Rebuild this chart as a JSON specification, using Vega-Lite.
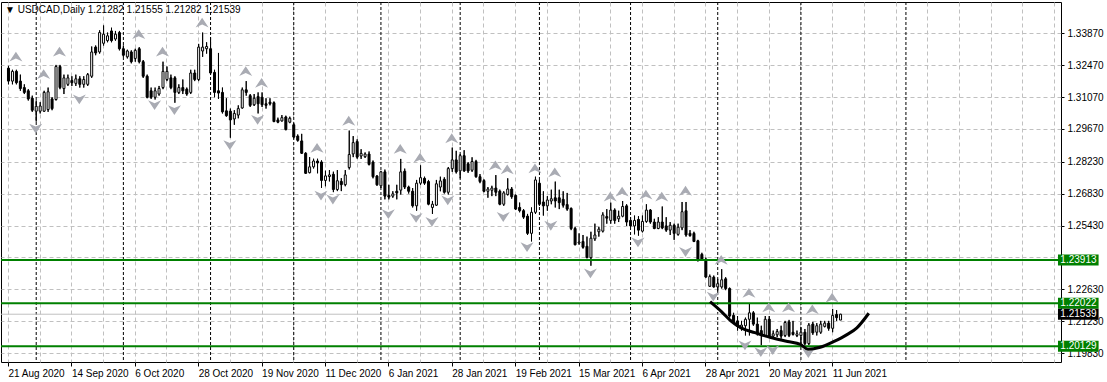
{
"$schema":"https://vega.github.io/schema/vega-lite/v6.json",
"width":1060,"height":360,
"autosize":{"type":"none"},
"padding":{"left":1,"top":2,"right":46,"bottom":20},
"background":"white",
"title":{"text":"▼ USDCAD,Daily  1.21282 1.21555 1.21282 1.21539","anchor":"start","frame":"group","offset":-13,"dx":4,"fontSize":10,"font":"Liberation Sans","fontWeight":"normal","color":"black"},
"config":{"view":{"stroke":"black","strokeWidth":1},"font":"Liberation Sans",
 "axis":{"labelFont":"Liberation Sans","grid":true,"gridColor":"#c0c0c0","gridDash":[4,3],"domain":false,"tickColor":"black","labelColor":"black","labelFontSize":10,"labelFlush":false,"labelOverlap":false,"labelBound":false},
 "axisX":{"tickSize":4,"labelAlign":"left","labelBaseline":"top","labelPadding":2},
 "axisY":{"tickSize":3,"labelAlign":"left","labelBaseline":"middle","labelPadding":3},
 "text":{"font":"Liberation Sans"}},
"datasets":{
"candles":[
{"i":0,"o":1.32338,"h":1.32437,"l":1.31628,"c":1.31770},
{"i":1,"o":1.31770,"h":1.32267,"l":1.31628,"c":1.32196},
{"i":2,"o":1.32196,"h":1.32267,"l":1.31628,"c":1.31699},
{"i":3,"o":1.31770,"h":1.32054,"l":1.31344,"c":1.31443},
{"i":4,"o":1.31486,"h":1.31628,"l":1.31202,"c":1.31273},
{"i":5,"o":1.31344,"h":1.31415,"l":1.30918,"c":1.30989},
{"i":6,"o":1.31017,"h":1.31131,"l":1.30421,"c":1.30492},
{"i":7,"o":1.30449,"h":1.30918,"l":1.29995,"c":1.30662},
{"i":8,"o":1.30449,"h":1.30847,"l":1.30350,"c":1.30677},
{"i":9,"o":1.30449,"h":1.31344,"l":1.30421,"c":1.31273},
{"i":10,"o":1.30520,"h":1.31486,"l":1.30421,"c":1.31301},
{"i":11,"o":1.30989,"h":1.31060,"l":1.30492,"c":1.30563},
{"i":12,"o":1.30961,"h":1.32480,"l":1.30918,"c":1.32409},
{"i":13,"o":1.32409,"h":1.32480,"l":1.31415,"c":1.31486},
{"i":14,"o":1.31443,"h":1.32054,"l":1.31202,"c":1.31912},
{"i":15,"o":1.31628,"h":1.32054,"l":1.31557,"c":1.31912},
{"i":16,"o":1.31798,"h":1.31983,"l":1.31557,"c":1.31699},
{"i":17,"o":1.31671,"h":1.32054,"l":1.31557,"c":1.31869},
{"i":18,"o":1.31869,"h":1.31983,"l":1.31486,"c":1.31628},
{"i":19,"o":1.31628,"h":1.31983,"l":1.31486,"c":1.31841},
{"i":20,"o":1.31628,"h":1.32125,"l":1.31557,"c":1.32054},
{"i":21,"o":1.31983,"h":1.33289,"l":1.31912,"c":1.33048},
{"i":22,"o":1.33261,"h":1.33332,"l":1.32906,"c":1.33005},
{"i":23,"o":1.33048,"h":1.33999,"l":1.32977,"c":1.33900},
{"i":24,"o":1.33431,"h":1.34212,"l":1.33332,"c":1.33829},
{"i":25,"o":1.33545,"h":1.33900,"l":1.33474,"c":1.33758},
{"i":26,"o":1.33971,"h":1.34113,"l":1.33474,"c":1.33545},
{"i":27,"o":1.33616,"h":1.33971,"l":1.33545,"c":1.33829},
{"i":28,"o":1.33900,"h":1.33971,"l":1.33119,"c":1.33190},
{"i":29,"o":1.33190,"h":1.33332,"l":1.32835,"c":1.32906},
{"i":30,"o":1.32835,"h":1.33147,"l":1.32764,"c":1.33091},
{"i":31,"o":1.33048,"h":1.33119,"l":1.32551,"c":1.32622},
{"i":32,"o":1.32764,"h":1.33190,"l":1.32622,"c":1.33119},
{"i":33,"o":1.33190,"h":1.33261,"l":1.32551,"c":1.32622},
{"i":34,"o":1.32622,"h":1.32693,"l":1.31912,"c":1.31983},
{"i":35,"o":1.31983,"h":1.32054,"l":1.31017,"c":1.31060},
{"i":36,"o":1.31344,"h":1.31486,"l":1.30989,"c":1.31060},
{"i":37,"o":1.31060,"h":1.31486,"l":1.30961,"c":1.31344},
{"i":38,"o":1.31202,"h":1.31557,"l":1.31131,"c":1.31443},
{"i":39,"o":1.31486,"h":1.32622,"l":1.31415,"c":1.32196},
{"i":40,"o":1.31841,"h":1.32409,"l":1.31770,"c":1.32196},
{"i":41,"o":1.31912,"h":1.32054,"l":1.31415,"c":1.31486},
{"i":42,"o":1.31912,"h":1.31983,"l":1.30819,"c":1.31273},
{"i":43,"o":1.31273,"h":1.31628,"l":1.31202,"c":1.31486},
{"i":44,"o":1.31486,"h":1.31841,"l":1.31202,"c":1.31344},
{"i":45,"o":1.31415,"h":1.31486,"l":1.31131,"c":1.31202},
{"i":46,"o":1.31273,"h":1.32267,"l":1.31202,"c":1.32125},
{"i":47,"o":1.32125,"h":1.32267,"l":1.31770,"c":1.31841},
{"i":48,"o":1.31841,"h":1.33403,"l":1.31770,"c":1.33261},
{"i":49,"o":1.33091,"h":1.33900,"l":1.32835,"c":1.33261},
{"i":50,"o":1.33190,"h":1.33474,"l":1.32977,"c":1.33289},
{"i":51,"o":1.33190,"h":1.33687,"l":1.32054,"c":1.32125},
{"i":52,"o":1.32153,"h":1.32267,"l":1.31060,"c":1.31273},
{"i":53,"o":1.31344,"h":1.33005,"l":1.30989,"c":1.31245},
{"i":54,"o":1.31273,"h":1.31486,"l":1.30350,"c":1.30421},
{"i":55,"o":1.30464,"h":1.31017,"l":1.30208,"c":1.30251},
{"i":56,"o":1.30449,"h":1.30563,"l":1.29285,"c":1.30066},
{"i":57,"o":1.30109,"h":1.30492,"l":1.29853,"c":1.30350},
{"i":58,"o":1.30279,"h":1.30705,"l":1.30137,"c":1.30563},
{"i":59,"o":1.30591,"h":1.31486,"l":1.30563,"c":1.31387},
{"i":60,"o":1.31387,"h":1.31770,"l":1.31131,"c":1.31273},
{"i":61,"o":1.31131,"h":1.31202,"l":1.30634,"c":1.30705},
{"i":62,"o":1.30733,"h":1.31202,"l":1.30677,"c":1.31017},
{"i":63,"o":1.31089,"h":1.31273,"l":1.30350,"c":1.30776},
{"i":64,"o":1.31060,"h":1.31273,"l":1.30634,"c":1.30733},
{"i":65,"o":1.30776,"h":1.31017,"l":1.30563,"c":1.30705},
{"i":66,"o":1.30847,"h":1.31017,"l":1.30705,"c":1.30776},
{"i":67,"o":1.30819,"h":1.30875,"l":1.29967,"c":1.29995},
{"i":68,"o":1.30066,"h":1.30165,"l":1.29924,"c":1.29967},
{"i":69,"o":1.30023,"h":1.30279,"l":1.29995,"c":1.30165},
{"i":70,"o":1.30194,"h":1.30251,"l":1.29612,"c":1.29640},
{"i":71,"o":1.29967,"h":1.30208,"l":1.29924,"c":1.30137},
{"i":72,"o":1.29853,"h":1.29924,"l":1.29257,"c":1.29313},
{"i":73,"o":1.29356,"h":1.29427,"l":1.29115,"c":1.29171},
{"i":74,"o":1.29143,"h":1.29455,"l":1.28575,"c":1.28603},
{"i":75,"o":1.28603,"h":1.28646,"l":1.27695,"c":1.27723},
{"i":76,"o":1.27751,"h":1.28433,"l":1.27723,"c":1.28007},
{"i":77,"o":1.28007,"h":1.28362,"l":1.27936,"c":1.28263},
{"i":78,"o":1.28263,"h":1.28362,"l":1.27723,"c":1.28177},
{"i":79,"o":1.28220,"h":1.28291,"l":1.27084,"c":1.27411},
{"i":80,"o":1.27411,"h":1.27837,"l":1.27155,"c":1.27609},
{"i":81,"o":1.27581,"h":1.27865,"l":1.27368,"c":1.27652},
{"i":82,"o":1.27680,"h":1.27794,"l":1.26897,"c":1.27013},
{"i":83,"o":1.27013,"h":1.27865,"l":1.26942,"c":1.27397},
{"i":84,"o":1.27368,"h":1.27510,"l":1.26942,"c":1.27226},
{"i":85,"o":1.27226,"h":1.27865,"l":1.27155,"c":1.27652},
{"i":86,"o":1.27979,"h":1.29598,"l":1.27893,"c":1.28547},
{"i":87,"o":1.28575,"h":1.29356,"l":1.28433,"c":1.29071},
{"i":88,"o":1.29115,"h":1.29214,"l":1.28362,"c":1.28433},
{"i":89,"o":1.28483,"h":1.28781,"l":1.28355,"c":1.28596},
{"i":90,"o":1.28454,"h":1.28639,"l":1.28398,"c":1.28568},
{"i":91,"o":1.28568,"h":1.28682,"l":1.28071,"c":1.28114},
{"i":92,"o":1.28213,"h":1.28284,"l":1.27503,"c":1.27574},
{"i":93,"o":1.27602,"h":1.27645,"l":1.27176,"c":1.27219},
{"i":94,"o":1.27176,"h":1.27830,"l":1.27077,"c":1.27787},
{"i":95,"o":1.27787,"h":1.27886,"l":1.26580,"c":1.26722},
{"i":96,"o":1.26750,"h":1.27219,"l":1.26580,"c":1.26679},
{"i":97,"o":1.26722,"h":1.26935,"l":1.26651,"c":1.26821},
{"i":98,"o":1.26935,"h":1.27219,"l":1.26580,"c":1.26864},
{"i":99,"o":1.26984,"h":1.28355,"l":1.26793,"c":1.27787},
{"i":100,"o":1.27815,"h":1.27929,"l":1.27034,"c":1.27120},
{"i":101,"o":1.27120,"h":1.27176,"l":1.26836,"c":1.26935},
{"i":102,"o":1.26935,"h":1.27077,"l":1.26225,"c":1.26296},
{"i":103,"o":1.26296,"h":1.27432,"l":1.26083,"c":1.27290},
{"i":104,"o":1.27290,"h":1.28071,"l":1.27219,"c":1.27531},
{"i":105,"o":1.27503,"h":1.27574,"l":1.27219,"c":1.27290},
{"i":106,"o":1.27361,"h":1.27432,"l":1.26324,"c":1.26367},
{"i":107,"o":1.26225,"h":1.26509,"l":1.25941,"c":1.26367},
{"i":108,"o":1.26324,"h":1.27432,"l":1.26296,"c":1.27262},
{"i":109,"o":1.27120,"h":1.27574,"l":1.26935,"c":1.27389},
{"i":110,"o":1.27460,"h":1.27546,"l":1.26836,"c":1.26892},
{"i":111,"o":1.26892,"h":1.28000,"l":1.26793,"c":1.27929},
{"i":112,"o":1.27929,"h":1.28852,"l":1.27787,"c":1.28312},
{"i":113,"o":1.28312,"h":1.28710,"l":1.27716,"c":1.27787},
{"i":114,"o":1.27830,"h":1.28568,"l":1.27503,"c":1.28497},
{"i":115,"o":1.28497,"h":1.28738,"l":1.27787,"c":1.27830},
{"i":116,"o":1.28142,"h":1.28213,"l":1.27744,"c":1.27830},
{"i":117,"o":1.27858,"h":1.28426,"l":1.27787,"c":1.28241},
{"i":118,"o":1.28241,"h":1.28312,"l":1.27531,"c":1.27574},
{"i":119,"o":1.27574,"h":1.27688,"l":1.27290,"c":1.27361},
{"i":120,"o":1.27404,"h":1.27460,"l":1.26892,"c":1.26935},
{"i":121,"o":1.26935,"h":1.27120,"l":1.26651,"c":1.27034},
{"i":122,"o":1.26978,"h":1.27176,"l":1.26722,"c":1.27077},
{"i":123,"o":1.27077,"h":1.27645,"l":1.26722,"c":1.26892},
{"i":124,"o":1.26935,"h":1.27006,"l":1.26324,"c":1.26367},
{"i":125,"o":1.26367,"h":1.26935,"l":1.26296,"c":1.26864},
{"i":126,"o":1.26793,"h":1.27503,"l":1.26750,"c":1.27034},
{"i":127,"o":1.27034,"h":1.27120,"l":1.26608,"c":1.26694},
{"i":128,"o":1.26750,"h":1.26793,"l":1.26111,"c":1.26154},
{"i":129,"o":1.26225,"h":1.26438,"l":1.26012,"c":1.26083},
{"i":130,"o":1.26083,"h":1.26154,"l":1.25728,"c":1.25800},
{"i":131,"o":1.25842,"h":1.25941,"l":1.25018,"c":1.25089},
{"i":132,"o":1.25089,"h":1.26225,"l":1.24734,"c":1.26012},
{"i":133,"o":1.26012,"h":1.27574,"l":1.25941,"c":1.27432},
{"i":134,"o":1.27288,"h":1.27430,"l":1.26294,"c":1.26365},
{"i":135,"o":1.26464,"h":1.26933,"l":1.25868,"c":1.26294},
{"i":136,"o":1.26294,"h":1.26720,"l":1.26081,"c":1.26550},
{"i":137,"o":1.26507,"h":1.27004,"l":1.26365,"c":1.26606},
{"i":138,"o":1.26649,"h":1.27359,"l":1.26223,"c":1.26507},
{"i":139,"o":1.26649,"h":1.27004,"l":1.26152,"c":1.26436},
{"i":140,"o":1.26578,"h":1.26933,"l":1.26223,"c":1.26322},
{"i":141,"o":1.26351,"h":1.26862,"l":1.26081,"c":1.26152},
{"i":142,"o":1.26180,"h":1.26223,"l":1.25229,"c":1.25300},
{"i":143,"o":1.25300,"h":1.25371,"l":1.24562,"c":1.24590},
{"i":144,"o":1.24661,"h":1.25087,"l":1.24590,"c":1.24704},
{"i":145,"o":1.24732,"h":1.25016,"l":1.24420,"c":1.24476},
{"i":146,"o":1.24519,"h":1.24945,"l":1.23994,"c":1.24022},
{"i":147,"o":1.24022,"h":1.25158,"l":1.23667,"c":1.24874},
{"i":148,"o":1.24846,"h":1.25513,"l":1.24760,"c":1.25016},
{"i":149,"o":1.25158,"h":1.25371,"l":1.24945,"c":1.25272},
{"i":150,"o":1.25186,"h":1.26010,"l":1.25130,"c":1.25896},
{"i":151,"o":1.25825,"h":1.26152,"l":1.25513,"c":1.25754},
{"i":152,"o":1.25655,"h":1.26436,"l":1.25513,"c":1.26109},
{"i":153,"o":1.26109,"h":1.26180,"l":1.25513,"c":1.25655},
{"i":154,"o":1.25726,"h":1.26081,"l":1.25584,"c":1.25840},
{"i":155,"o":1.25840,"h":1.26507,"l":1.25797,"c":1.26266},
{"i":156,"o":1.26294,"h":1.26365,"l":1.25414,"c":1.25584},
{"i":157,"o":1.25655,"h":1.25797,"l":1.25371,"c":1.25414},
{"i":158,"o":1.25414,"h":1.25868,"l":1.25044,"c":1.25655},
{"i":159,"o":1.25698,"h":1.25840,"l":1.24988,"c":1.25229},
{"i":160,"o":1.25186,"h":1.25868,"l":1.25130,"c":1.25612},
{"i":161,"o":1.25612,"h":1.26365,"l":1.25556,"c":1.26109},
{"i":162,"o":1.26109,"h":1.26152,"l":1.25513,"c":1.25584},
{"i":163,"o":1.25584,"h":1.25726,"l":1.25272,"c":1.25300},
{"i":164,"o":1.25300,"h":1.25797,"l":1.25272,"c":1.25584},
{"i":165,"o":1.25584,"h":1.26266,"l":1.25272,"c":1.25328},
{"i":166,"o":1.25414,"h":1.25797,"l":1.25158,"c":1.25229},
{"i":167,"o":1.25229,"h":1.25584,"l":1.25016,"c":1.25442},
{"i":168,"o":1.25442,"h":1.25513,"l":1.24803,"c":1.25087},
{"i":169,"o":1.25044,"h":1.25513,"l":1.24988,"c":1.25357},
{"i":170,"o":1.25328,"h":1.26464,"l":1.25229,"c":1.26038},
{"i":171,"o":1.26081,"h":1.26464,"l":1.24945,"c":1.25016},
{"i":172,"o":1.25087,"h":1.25229,"l":1.24945,"c":1.24988},
{"i":173,"o":1.25087,"h":1.25158,"l":1.24704,"c":1.24732},
{"i":174,"o":1.24760,"h":1.24803,"l":1.23852,"c":1.23951},
{"i":175,"o":1.24164,"h":1.24235,"l":1.23880,"c":1.23951},
{"i":176,"o":1.23951,"h":1.24022,"l":1.23142,"c":1.23170},
{"i":177,"o":1.22765,"h":1.23277,"l":1.22737,"c":1.23191},
{"i":178,"o":1.23163,"h":1.23234,"l":1.22709,"c":1.22737},
{"i":179,"o":1.22737,"h":1.23092,"l":1.22524,"c":1.22879},
{"i":180,"o":1.22737,"h":1.23518,"l":1.22666,"c":1.23049},
{"i":181,"o":1.23092,"h":1.23163,"l":1.22595,"c":1.22666},
{"i":182,"o":1.22666,"h":1.22709,"l":1.21388,"c":1.21459},
{"i":183,"o":1.21487,"h":1.21601,"l":1.21104,"c":1.21175},
{"i":184,"o":1.21246,"h":1.21459,"l":1.20820,"c":1.21005},
{"i":185,"o":1.20962,"h":1.21246,"l":1.20820,"c":1.21061},
{"i":186,"o":1.21033,"h":1.21388,"l":1.20607,"c":1.21317},
{"i":187,"o":1.21317,"h":1.22027,"l":1.20607,"c":1.21601},
{"i":188,"o":1.21601,"h":1.21672,"l":1.21033,"c":1.21104},
{"i":189,"o":1.21104,"h":1.21388,"l":1.20607,"c":1.20677},
{"i":190,"o":1.20820,"h":1.21033,"l":1.20181,"c":1.20607},
{"i":191,"o":1.20607,"h":1.21459,"l":1.20536,"c":1.21317},
{"i":192,"o":1.21317,"h":1.21459,"l":1.20493,"c":1.20579},
{"i":193,"o":1.20579,"h":1.20820,"l":1.20465,"c":1.20678},
{"i":194,"o":1.20635,"h":1.20891,"l":1.20536,"c":1.20777},
{"i":195,"o":1.20820,"h":1.21033,"l":1.20465,"c":1.20579},
{"i":196,"o":1.20607,"h":1.21246,"l":1.20536,"c":1.21175},
{"i":197,"o":1.21203,"h":1.21289,"l":1.20536,"c":1.20607},
{"i":198,"o":1.20749,"h":1.21246,"l":1.20607,"c":1.20650},
{"i":199,"o":1.20607,"h":1.20820,"l":1.20536,"c":1.20678},
{"i":200,"o":1.20607,"h":1.20962,"l":1.20252,"c":1.20749},
{"i":201,"o":1.20749,"h":1.20891,"l":1.20181,"c":1.20252},
{"i":202,"o":1.20252,"h":1.21147,"l":1.20181,"c":1.21061},
{"i":203,"o":1.21104,"h":1.21203,"l":1.20635,"c":1.20721},
{"i":204,"o":1.20749,"h":1.21147,"l":1.20607,"c":1.21033},
{"i":205,"o":1.20749,"h":1.21246,"l":1.20678,"c":1.21104},
{"i":206,"o":1.21005,"h":1.21246,"l":1.20962,"c":1.21147},
{"i":207,"o":1.21147,"h":1.21246,"l":1.20820,"c":1.20920},
{"i":208,"o":1.20920,"h":1.21771,"l":1.20749,"c":1.21487},
{"i":209,"o":1.21530,"h":1.21715,"l":1.21246,"c":1.21388},
{"i":210,"o":1.21282,"h":1.21555,"l":1.21282,"c":1.21539}
],
"fractals":[
{"i":2,"p":1.32846,"dir":"up"},{"i":9,"p":1.32078,"dir":"up"},{"i":13,"p":1.33059,"dir":"up"},{"i":33,"p":1.33827,"dir":"up"},{"i":39,"p":1.33059,"dir":"up"},{"i":49,"p":1.34339,"dir":"up"},{"i":60,"p":1.32206,"dir":"up"},{"i":64,"p":1.31694,"dir":"up"},{"i":78,"p":1.28835,"dir":"up"},{"i":86,"p":1.30030,"dir":"up"},{"i":99,"p":1.28792,"dir":"up"},{"i":104,"p":1.28408,"dir":"up"},{"i":112,"p":1.29262,"dir":"up"},{"i":123,"p":1.28067,"dir":"up"},{"i":126,"p":1.27896,"dir":"up"},{"i":133,"p":1.27939,"dir":"up"},{"i":138,"p":1.27768,"dir":"up"},{"i":152,"p":1.26701,"dir":"up"},{"i":155,"p":1.26915,"dir":"up"},{"i":161,"p":1.26787,"dir":"up"},{"i":165,"p":1.26701,"dir":"up"},{"i":171,"p":1.26957,"dir":"up"},{"i":180,"p":1.23928,"dir":"up"},{"i":187,"p":1.22477,"dir":"up"},{"i":192,"p":1.21837,"dir":"up"},{"i":197,"p":1.21837,"dir":"up"},{"i":203,"p":1.21752,"dir":"up"},{"i":208,"p":1.22264,"dir":"up"},
{"i":7,"p":1.29688,"dir":"down"},{"i":18,"p":1.30968,"dir":"down"},{"i":37,"p":1.30712,"dir":"down"},{"i":42,"p":1.30499,"dir":"down"},{"i":56,"p":1.28963,"dir":"down"},{"i":63,"p":1.30072,"dir":"down"},{"i":79,"p":1.26744,"dir":"down"},{"i":82,"p":1.26573,"dir":"down"},{"i":96,"p":1.25933,"dir":"down"},{"i":103,"p":1.25763,"dir":"down"},{"i":107,"p":1.25592,"dir":"down"},{"i":111,"p":1.26531,"dir":"down"},{"i":125,"p":1.25805,"dir":"down"},{"i":131,"p":1.24483,"dir":"down"},{"i":137,"p":1.25421,"dir":"down"},{"i":147,"p":1.23331,"dir":"down"},{"i":159,"p":1.24696,"dir":"down"},{"i":171,"p":1.24269,"dir":"down"},{"i":178,"p":1.22306,"dir":"down"},{"i":186,"p":1.20173,"dir":"down"},{"i":190,"p":1.19875,"dir":"down"},{"i":193,"p":1.19960,"dir":"down"},{"i":202,"p":1.19832,"dir":"down"}
],
"arc":[
{"i":177.2,"p":1.22093},{"i":180,"p":1.21666},{"i":182.5,"p":1.21240},{"i":185,"p":1.20941},{"i":188.5,"p":1.20728},{"i":192.5,"p":1.20514},{"i":196.75,"p":1.20344},{"i":200,"p":1.20216},{"i":201.9,"p":1.20003},{"i":205,"p":1.20088},{"i":208.5,"p":1.20344},{"i":211.75,"p":1.20643},{"i":214.25,"p":1.20941},{"i":217.25,"p":1.21581}
],
"separators":[{"i":7},{"i":29},{"i":51},{"i":72},{"i":94},{"i":114},{"i":134},{"i":157},{"i":179},{"i":200},{"i":226.5}],
"levels":[{"p":1.23913},{"p":1.22022},{"p":1.20129}],
"bid":[{"p":1.21539}],
"tags":[{"p":1.23913,"kind":"level"},{"p":1.22022,"kind":"level"},{"p":1.20129,"kind":"level"},{"p":1.21539,"kind":"bid"}]
},
"layer":[
{"data":{"name":"candles"},
 "mark":{"type":"rule","color":"black","strokeWidth":1,"xOffset":0.5},
 "encoding":{
  "x":{"field":"i","type":"quantitative","scale":{"domain":[-0.5,264.5],"nice":false,"zero":false},
   "axis":{"values":[0,8,16,24,32,40,48,56,64,72,80,88,96,104,112,120,128,136,144,152,160,168,176,184,192,200,208,216,224,232,240,248,256,264],
    "tickCount":100,
    "title":null,"orient":"bottom","grid":true,"gridColor":"#c0c0c0","gridDash":[4,3],"domain":false,
    "labelOverlap":false,"labelFlush":false,"labelBound":false,
    "tickOpacity":{"condition":{"test":"datum.value % 16 === 0 && datum.value <= 208","value":1},"value":0},
    "labelExpr":"(datum.value % 16 === 0 && datum.value <= 208) ? ['21 Aug 2020','14 Sep 2020','6 Oct 2020','28 Oct 2020','19 Nov 2020','11 Dec 2020','6 Jan 2021','28 Jan 2021','19 Feb 2021','15 Mar 2021','6 Apr 2021','28 Apr 2021','20 May 2021','11 Jun 2021'][datum.value/16] : ''"}},
  "y":{"field":"l","type":"quantitative","scale":{"domain":[1.19661,1.35022],"nice":false,"zero":false},
   "axis":{"values":[1.1983,1.2123,1.2263,1.2403,1.2543,1.2683,1.2823,1.2967,1.3107,1.3247,1.3387],
    "tickCount":100,
    "title":null,"orient":"right","grid":true,"gridColor":"#c0c0c0","gridDash":[4,3],"domain":false,
    "labelOverlap":false,"labelFlush":false,"labelBound":false,
    "labelExpr":"abs(datum.value-1.2403)<0.0001 ? '' : format(datum.value,'.5f')"}},
  "y2":{"field":"h"}}},
{"data":{"name":"separators"},
 "mark":{"type":"rule","color":"black","strokeWidth":1,"strokeDash":[3,2],"xOffset":0.5},
 "encoding":{"x":{"field":"i","type":"quantitative","scale":{"domain":[-0.5,264.5],"nice":false,"zero":false}}}},
{"data":{"name":"bid"},
 "mark":{"type":"rule","color":"#c0c0c0","strokeWidth":1},
 "encoding":{"y":{"field":"p","type":"quantitative","scale":{"domain":[1.19661,1.35022],"nice":false,"zero":false}}}},
{"data":{"name":"candles"},
 "mark":{"type":"rule","color":"black","strokeWidth":1,"xOffset":0.5},
 "encoding":{
  "x":{"field":"i","type":"quantitative","scale":{"domain":[-0.5,264.5],"nice":false,"zero":false}},
  "y":{"field":"l","type":"quantitative","scale":{"domain":[1.19661,1.35022],"nice":false,"zero":false}},
  "y2":{"field":"h"}}},
{"data":{"name":"candles"},
 "mark":{"type":"bar","width":2,"stroke":"black","strokeWidth":1,"xOffset":0.5},
 "encoding":{
  "x":{"field":"i","type":"quantitative","scale":{"domain":[-0.5,264.5],"nice":false,"zero":false}},
  "y":{"field":"o","type":"quantitative","scale":{"domain":[1.19661,1.35022],"nice":false,"zero":false}},
  "y2":{"field":"c"},
  "fill":{"condition":{"test":"datum.c >= datum.o","value":"white"},"value":"black"}}},
{"data":{"name":"levels"},
 "mark":{"type":"rule","color":"#008000","strokeWidth":2},
 "encoding":{"y":{"field":"p","type":"quantitative","scale":{"domain":[1.19661,1.35022],"nice":false,"zero":false}}}},
{"data":{"name":"fractals"},
 "mark":{"type":"point","filled":true,"size":170,"color":"#a9abb3","opacity":1,"clip":true},
 "encoding":{
  "x":{"field":"i","type":"quantitative","scale":{"domain":[-0.5,264.5],"nice":false,"zero":false}},
  "y":{"field":"p","type":"quantitative","scale":{"domain":[1.19661,1.35022],"nice":false,"zero":false}},
  "shape":{"field":"dir","type":"nominal","scale":{"domain":["up","down"],"range":["M0,-0.75L1,0.75L0,0.3L-1,0.75Z","M0,0.75L1,-0.75L0,-0.3L-1,-0.75Z"]},"legend":null}}},
{"data":{"name":"arc"},
 "mark":{"type":"line","color":"black","strokeWidth":3,"interpolate":"monotone"},
 "encoding":{
  "x":{"field":"i","type":"quantitative","scale":{"domain":[-0.5,264.5],"nice":false,"zero":false}},
  "y":{"field":"p","type":"quantitative","scale":{"domain":[1.19661,1.35022],"nice":false,"zero":false}}}},
{"data":{"name":"tags"},
 "mark":{"type":"bar","orient":"horizontal"},
 "encoding":{
  "x":{"datum":265,"type":"quantitative","scale":{"domain":[-0.5,264.5],"nice":false,"zero":false}},
  "x2":{"datum":275.25},
  "y":{"field":"p","type":"quantitative","scale":{"domain":[1.19661,1.35022],"nice":false,"zero":false}},
  "size":{"value":11},
  "color":{"field":"kind","type":"nominal","scale":{"domain":["level","bid"],"range":["#008000","#000000"]},"legend":null}}},
{"data":{"name":"tags"},
 "mark":{"type":"text","align":"left","baseline":"middle","color":"white","fontSize":10},
 "encoding":{
  "x":{"datum":265.6,"type":"quantitative","scale":{"domain":[-0.5,264.5],"nice":false,"zero":false}},
  "y":{"field":"p","type":"quantitative","scale":{"domain":[1.19661,1.35022],"nice":false,"zero":false}},
  "text":{"field":"p","type":"quantitative","format":".5f"}}}
]
}
